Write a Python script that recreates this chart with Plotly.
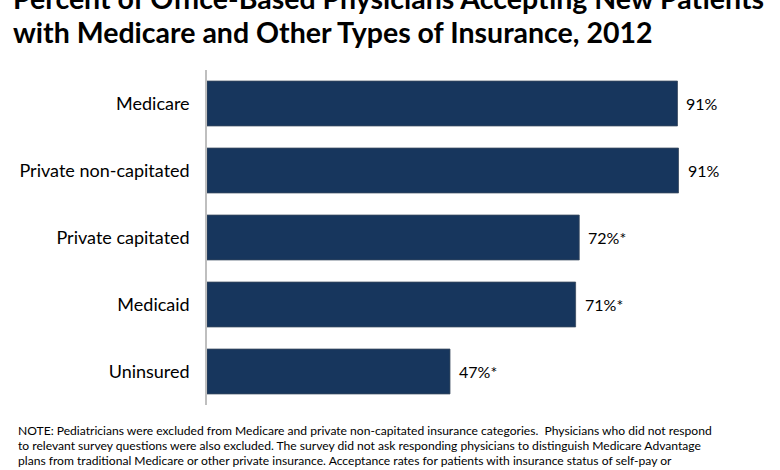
import plotly.graph_objects as go

categories = ["Medicare", "Private non-capitated", "Private capitated", "Medicaid", "Uninsured"]
values = [91, 91.2, 72, 71.3, 47]
labels = ["91%", "91%", "72%*", "71%*", "47%*"]

title_lines = [
    "Percent of Office-Based Physicians Accepting New Patients",
    "with Medicare and Other Types of Insurance, 2012",
]
note_lines = [
    "NOTE: Pediatricians were excluded from Medicare and private non-capitated insurance categories.  Physicians who did not respond",
    "to relevant survey questions were also excluded. The survey did not ask responding physicians to distinguish Medicare Advantage",
    "plans from traditional Medicare or other private insurance. Acceptance rates for patients with insurance status of self-pay or",
]

FONT = "Lato"
BAR = "#17365D"

L, R, T, B = 207, 56, 70, 65
W, H = 780, 470
PW, PH = W - L - R, H - T - B


def px_x(p):
    return (p - L) / PW


def px_y(p):
    return 1 + (T - p) / PH


fig = go.Figure(go.Bar(
    x=values,
    y=categories,
    orientation="h",
    marker=dict(color=BAR, line=dict(color="#3a4a5e", width=0.8)),
    hoverinfo="x+y",
))

for cat, v, lab in zip(categories, values, labels):
    fig.add_annotation(
        x=v, y=cat, xref="x", yref="y", text=lab, showarrow=False,
        xanchor="left", yanchor="middle", xshift=7,
        font=dict(family=FONT, size=16, color="#000000"),
    )

fig.update_layout(
    width=W, height=H,
    margin=dict(l=L, r=R, t=T, b=B, autoexpand=False),
    paper_bgcolor="white", plot_bgcolor="white",
    bargap=0.33,
    showlegend=False,
    font=dict(family=FONT, color="#000000"),
    xaxis=dict(range=[0, 100], visible=False, fixedrange=True),
    yaxis=dict(
        autorange="reversed",
        showline=True, linecolor="#BFBFBF", linewidth=1.5,
        showgrid=False, zeroline=False, fixedrange=True,
        ticks="", ticklabelstandoff=12,
        tickfont=dict(family=FONT, size=18, color="#000000"),
    ),
)

title_centers = [-2, 32]
for line, cy in zip(title_lines, title_centers):
    fig.add_annotation(
        text=line, xref="paper", yref="paper", x=px_x(11), y=px_y(cy),
        xanchor="left", yanchor="middle", align="left", showarrow=False,
        font=dict(family=FONT, size=28.5, color="#000000", weight="bold"),
    )

note_centers = [431, 445.5, 460]
for line, cy in zip(note_lines, note_centers):
    fig.add_annotation(
        text=line, xref="paper", yref="paper", x=px_x(16), y=px_y(cy),
        xanchor="left", yanchor="middle", align="left", showarrow=False,
        font=dict(family=FONT, size=12.1, color="#000000"),
    )

fig.write_html(
    "out.html",
    config={"displayModeBar": False},
    post_script="document.body.style.margin='0';document.body.style.padding='0';",
)
